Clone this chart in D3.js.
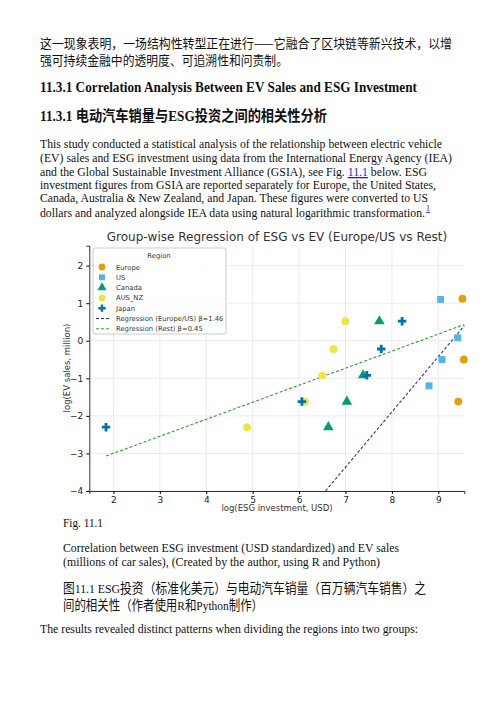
<!DOCTYPE html>
<html><head><meta charset="utf-8">
<script src="https://cdn.jsdelivr.net/npm/d3@7"></script>
<style>body{margin:0;background:#fff}</style>
</head><body><div id="page"></div>
<script>
// data
const europe = [[9.52,1.12],[9.55,-0.5],[9.43,-1.62]];
const us = [[9.05,1.1],[9.42,0.08],[9.08,-0.5],[8.8,-1.2]];
const canada = [[7.73,0.52],[7.38,-0.92],[7.03,-1.62],[6.63,-2.3]];
const ausNz = [[7.0,0.52],[6.74,-0.22],[6.5,-0.92],[6.13,-1.62],[4.88,-2.3]];
const japan = [[8.22,0.52],[7.77,-0.22],[7.46,-0.92],[6.06,-1.62],[1.84,-2.3]];
const regEU = [[6.57,-4],[9.56,0.4]];
const regRest = [[1.84,-3.07],[9.56,0.43]];
const xTicks = [2,3,4,5,6,7,8,9];
const yTicks = [2,1,0,-1,-2,-3,-4];

const svg = d3.select("#page").append("svg").attr("width",500).attr("height",706);
const serif = "Liberation Serif, Times New Roman, serif";
const cjk = "Noto Sans CJK SC, sans-serif";

// squeeze a line so it ends where the reference line ends
function fit(t,x0,x1){ t.attr("textLength",x1-x0).attr("lengthAdjust","spacingAndGlyphs"); return t; }

function line(x,y,txt,font,size,weight){
  return svg.append("text").attr("x",x).attr("y",y).attr("font-family",font)
    .attr("font-size",size).attr("font-weight",weight||"normal").attr("fill","#111").text(txt);
}
fit(line(40,48,"这一现象表明，一场结构性转型正在进行——它融合了区块链等新兴技术，以增",cjk,13),40,452);
fit(line(40,65,"强可持续金融中的透明度、可追溯性和问责制。",cjk,13),40,288);
fit(line(40,92,"11.3.1 Correlation Analysis Between EV Sales and ESG Investment",serif,14.5,"bold"),40,417);
const h = svg.append("text").attr("x",40).attr("y",121).attr("font-size",15).attr("font-weight","bold").attr("fill","#111");
h.append("tspan").attr("font-family",serif).text("11.3.1 ");
h.append("tspan").attr("font-family",cjk).text("电动汽车销量与");
h.append("tspan").attr("font-family",serif).text("ESG");
h.append("tspan").attr("font-family",cjk).text("投资之间的相关性分析");
fit(h,40,327);
const para = [
 "This study conducted a statistical analysis of the relationship between electric vehicle",
 "(EV) sales and ESG investment using data from the International Energy Agency (IEA)",
 "and the Global Sustainable Investment Alliance (GSIA), see Fig. 11.1 below. ESG",
 "investment figures from GSIA are reported separately for Europe, the United States,",
 "Canada, Australia & New Zealand, and Japan. These figures were converted to US",
 "dollars and analyzed alongside IEA data using natural logarithmic transformation."];
const pb = [148,162,176,189,202,217];
const pe = [442,452,427,436,428,425];
para.forEach((t,i)=>{
  if(i===2){
    const tx = svg.append("text").attr("x",40).attr("y",pb[i]).attr("font-family",serif).attr("font-size",13).attr("fill","#111");
    tx.append("tspan").text("and the Global Sustainable Investment Alliance (GSIA), see Fig. ");
    tx.append("tspan").attr("fill","#1a1aee").attr("text-decoration","underline").text("11.1");
    tx.append("tspan").text(" below. ESG");
    fit(tx,40,pe[i]);
  } else {
    fit(line(40,pb[i],t,serif,13),40,pe[i]);
  }
});
svg.append("text").attr("x",426).attr("y",211).attr("font-size",8).attr("font-family",serif)
  .attr("fill","#1a1aee").attr("text-decoration","underline").text("1");
fit(line(63,527,"Fig. 11.1",serif,13),63,103);
fit(line(63,552,"Correlation between ESG investment (USD standardized) and EV sales",serif,13),63,399);
fit(line(63,566,"(millions of car sales), (Created by the author, using R and Python)",serif,13),63,380);
const c1 = svg.append("text").attr("x",63).attr("y",593).attr("font-size",13.5).attr("fill","#111");
c1.append("tspan").attr("font-family",cjk).text("图");
c1.append("tspan").attr("font-family",serif).text("11.1 ESG");
c1.append("tspan").attr("font-family",cjk).text("投资（标准化美元）与电动汽车销量（百万辆汽车销售）之");
fit(c1,63,426);
const c2 = svg.append("text").attr("x",63).attr("y",610).attr("font-size",13.5).attr("fill","#111");
c2.append("tspan").attr("font-family",cjk).text("间的相关性（作者使用");
c2.append("tspan").attr("font-family",serif).text("R");
c2.append("tspan").attr("font-family",cjk).text("和");
c2.append("tspan").attr("font-family",serif).text("Python");
c2.append("tspan").attr("font-family",cjk).text("制作）");
fit(c2,63,263);
fit(line(40,633,"The results revealed distinct patterns when dividing the regions into two groups:",serif,13),40,418);

// chart
const x = d3.scaleLinear().domain([1.48,9.56]).range([89.3,464.3]);
const y = d3.scaleLinear().domain([-4,2.53]).range([491,245.7]);
const sans = "DejaVu Sans, sans-serif";
const g = svg.append("g").attr("font-family",sans);
g.append("g").selectAll("line").data(xTicks).join("line")
  .attr("x1",d=>x(d)).attr("x2",d=>x(d)).attr("y1",y.range()[1]).attr("y2",y.range()[0])
  .attr("stroke","#e6e6e6").attr("stroke-width",0.8);
g.append("g").selectAll("line").data(yTicks).join("line")
  .attr("y1",d=>y(d)).attr("y2",d=>y(d)).attr("x1",x.range()[0]).attr("x2",x.range()[1])
  .attr("stroke","#e6e6e6").attr("stroke-width",0.8);
const ax = g.append("g").attr("transform",`translate(0,${y.range()[0]})`)
  .call(d3.axisBottom(x).tickValues(xTicks).tickSize(3).tickFormat(d3.format("d")));
const ay = g.append("g").attr("transform",`translate(${x.range()[0]},0)`)
  .call(d3.axisLeft(y).tickValues(yTicks).tickSize(3).tickFormat(d=>d<0?"−"+(-d):d));
[ax,ay].forEach(a=>{a.selectAll("text").attr("font-size",9).attr("font-family",sans).attr("fill","#222");
  a.select(".domain").attr("stroke","#333");});
g.append("text").attr("x",277).attr("y",241).attr("text-anchor","middle").attr("font-size",12).attr("fill","#333")
  .text("Group-wise Regression of ESG vs EV (Europe/US vs Rest)");
g.append("text").attr("x",277).attr("y",511).attr("text-anchor","middle").attr("font-size",8.5).attr("fill","#333")
  .text("log(ESG investment, USD)");
g.append("text").attr("transform","translate(70,368) rotate(-90)").attr("text-anchor","middle").attr("font-size",8.5).attr("fill","#333")
  .text("log(EV sales, million)");

const ln = d3.line().x(d=>x(d[0])).y(d=>y(d[1]));
g.append("path").attr("d",ln(regRest)).attr("stroke","#2ca02c").attr("stroke-width",1.1).attr("stroke-dasharray","3,2").attr("fill","none");
g.append("path").attr("d",ln(regEU)).attr("stroke","#3030b0").attr("stroke-width",1.1).attr("stroke-dasharray","3,2").attr("fill","none");

const series = [
 {name:"Europe",data:europe,color:"#e69f00",sym:d3.symbolCircle},
 {name:"US",data:us,color:"#56b4e9",sym:d3.symbolSquare},
 {name:"Canada",data:canada,color:"#009e73",sym:d3.symbolTriangle},
 {name:"AUS_NZ",data:ausNz,color:"#f0e442",sym:d3.symbolCircle},
 {name:"Japan",data:japan,color:"#0072b2",sym:d3.symbolCross}];
series.forEach(s=>{
  g.append("g").selectAll("path").data(s.data).join("path")
    .attr("transform",d=>`translate(${x(d[0])},${y(d[1])})`)
    .attr("d",d3.symbol(s.sym,s.sym===d3.symbolCross?40:48)).attr("fill",s.color);
});

// legend
const lg = g.append("g").attr("transform","translate(93,248)");
lg.append("rect").attr("width",133).attr("height",86).attr("rx",2).attr("fill","#fff").attr("fill-opacity",0.85).attr("stroke","#ccc");
lg.append("text").attr("x",66).attr("y",10).attr("text-anchor","middle").attr("font-size",6.8).attr("fill","#333").text("Region");
series.forEach((s,i)=>{
  const yy = 19+i*10.3;
  lg.append("path").attr("transform",`translate(9,${yy})`).attr("d",d3.symbol(s.sym,s.sym===d3.symbolCross?30:36)).attr("fill",s.color);
  lg.append("text").attr("x",23).attr("y",yy+2.5).attr("font-size",6.8).attr("fill","#333").text(s.name);
});
[["#3030b0","Regression (Europe/US) β=1.46"],["#2ca02c","Regression (Rest) β=0.45"]].forEach((r,i)=>{
  const yy = 19+(5+i)*10.3;
  lg.append("line").attr("x1",3).attr("x2",16).attr("y1",yy).attr("y2",yy).attr("stroke",r[0]).attr("stroke-dasharray","3,2");
  lg.append("text").attr("x",23).attr("y",yy+2.5).attr("font-size",6.8).attr("fill","#333").text(r[1]);
});
</script></body></html>
